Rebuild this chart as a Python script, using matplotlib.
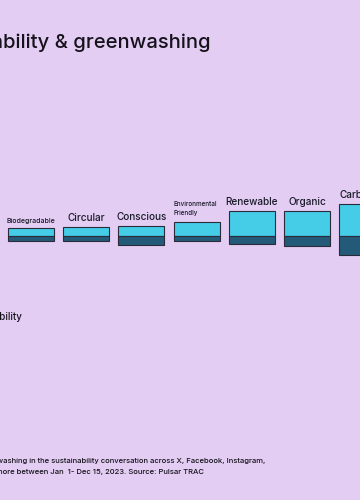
import matplotlib
matplotlib.use("Agg")
import matplotlib.pyplot as plt

BG = "#E3CDF2"
LIGHT = "#45CDE8"
DARK = "#235A78"

categories = ["Biodegradable", "Circular", "Conscious", "Environmental\nFriendly",
              "Renewable", "Organic", "Carbon"]
sustainability = [8, 9, 10, 14, 25, 25, 32]
greenwashing = [5, 5, 9, 5, 8, 10, 19]
label_sizes = [5.0, 7.2, 7.2, 4.5, 7.2, 7.2, 7.2]

fig = plt.figure(figsize=(3.6, 5.0), dpi=100, facecolor=BG)

# bar area: pixel rows 180..270, midline at 236
H = 500.0
ax = fig.add_axes([0, 1 - 270 / H, 1, 90 / H])
ax.set_facecolor("none")
x = list(range(len(categories)))
ax.bar(x, sustainability, width=0.833, color=LIGHT, edgecolor="#2a2a3a", linewidth=0.8)
ax.bar(x, [-g for g in greenwashing], width=0.833, color=DARK, edgecolor="#2a2a3a", linewidth=0.8)
ax.set_xlim(-31 / 55.2, (360 - 31) / 55.2)
ax.set_ylim(-34, 56)
ax.axis("off")

for i, (lab, v, fs) in enumerate(zip(categories, sustainability, label_sizes)):
    if "\n" in lab:
        ax.annotate(lab, (i - 0.41, v), xytext=(0, 4), textcoords="offset points",
                    ha="left", va="bottom", fontsize=fs, color="#1a1a2a",
                    family="Inter", fontweight="medium", linespacing=1.6)
    elif i == len(categories) - 1:
        ax.annotate(lab, (i - 0.41, v), xytext=(0, 3), textcoords="offset points",
                    ha="left", va="bottom", fontsize=fs, color="#1a1a2a",
                    family="Inter", fontweight="medium")
    else:
        ax.annotate(lab, (i, v), xytext=(0, 3), textcoords="offset points",
                    ha="center", va="bottom", fontsize=fs, color="#1a1a2a",
                    family="Inter", fontweight="medium")

fig.text(211 / 360, 1 - 43 / H, "Sustainability & greenwashing", ha="right", va="center",
         fontsize=14.5, color="#15121c", family="Inter", fontweight="medium")
fig.text(22 / 360, 1 - 317 / H, "Sustainability", ha="right", va="center",
         fontsize=7, color="#15121c", family="Inter", fontweight="medium")
fig.text(265 / 360, 1 - 461 / H,
         "Share of greenwashing in the sustainability conversation across X, Facebook, Instagram,",
         ha="right", va="center", fontsize=5.5, color="#15121c", family="Inter",
         fontweight="medium")
fig.text(204 / 360, 1 - 472 / H,
         "Reddit and more between Jan  1- Dec 15, 2023. Source: Pulsar TRAC",
         ha="right", va="center", fontsize=5.5, color="#15121c", family="Inter",
         fontweight="medium")

fig.savefig("out.png", dpi=100, facecolor=BG)
